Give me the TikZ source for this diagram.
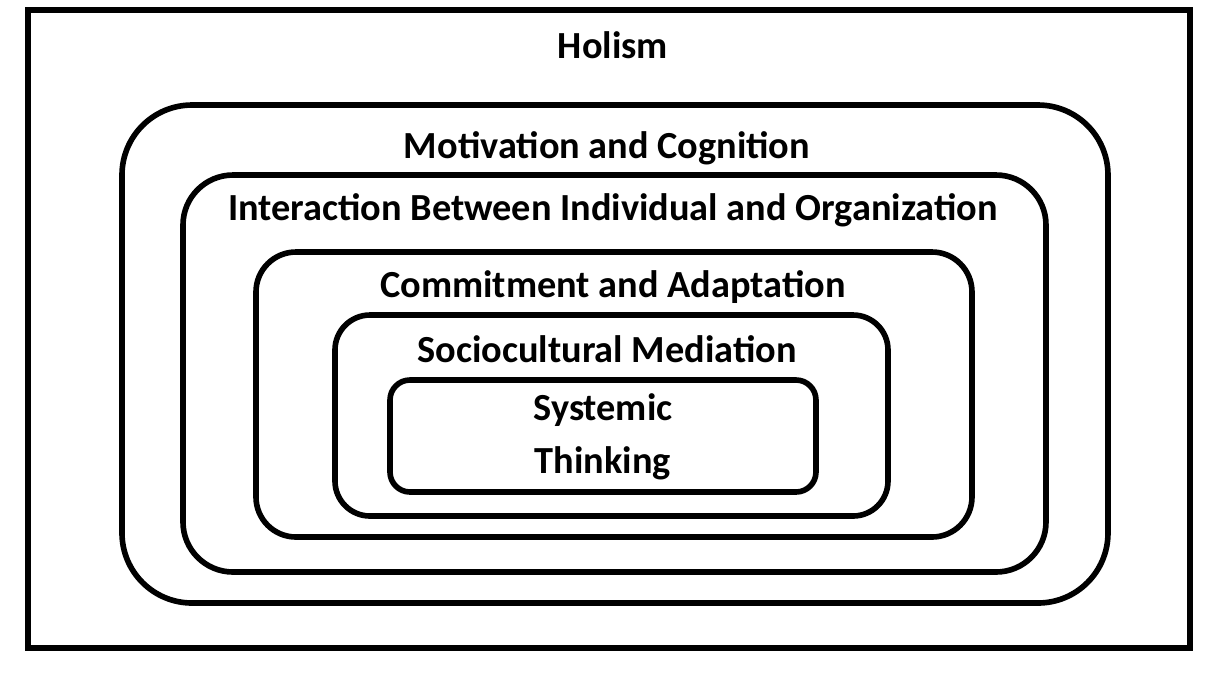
\documentclass[tikz,border=0pt]{standalone}
\usepackage{fontspec}
\setmainfont{Carlito}
\usetikzlibrary{positioning}
\tikzset{
    layer/.style={draw, line width=1.6pt, inner sep=0pt},
    caption/.style={font=\fontsize{10.9pt}{13pt}\selectfont\bfseries, align=center, inner sep=0pt}
}
\begin{document}
\begin{tikzpicture}
            \useasboundingbox (0,0) rectangle (12.11,-6.74);
            % Boxes, outside to inside
            \node[layer, minimum width=11.62cm, minimum height=6.38cm] (holism) at (6.09,-3.29) {};
            \node[layer, rounded corners=0.7cm, minimum width=9.86cm, minimum height=4.98cm] (motiv) at (6.15,-3.54) {};
            \node[layer, rounded corners=0.5cm, minimum width=8.63cm, minimum height=3.97cm] (inter) at (6.145,-3.735) {};
            \node[layer, rounded corners=0.4cm, minimum width=7.16cm, minimum height=2.85cm] (commit) at (6.14,-3.945) {};
            \node[layer, rounded corners=0.35cm, minimum width=5.53cm, minimum height=2.01cm] (socio) at (6.115,-4.155) {};
            \node[layer, rounded corners=0.2cm, minimum width=4.26cm, minimum height=1.12cm] (system) at (6.03,-4.36) {};
            
            % Labels
            \node[caption] (holismlbl) at (6.13,-0.45) {Holism};
            \node[caption] (motivlbl) at (6.07,-1.48) {Motivation and Cognition};
            \node[caption] (interlbl) at (6.13,-2.1) {Interaction Between Individual and Organization};
            \node[caption] (commitlbl) at (6.13,-2.87) {Commitment and Adaptation};
            \node[caption] (sociolbl) at (6.07,-3.49) {Sociocultural Mediation};
            \node[caption] (systemlbl) at (6.03,-4.37) {Systemic\\[2pt]Thinking};
\end{tikzpicture}
\end{document}
